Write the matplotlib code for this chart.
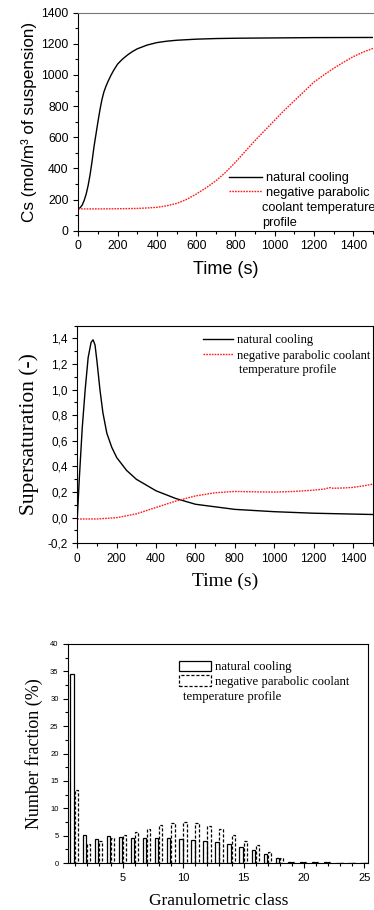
import numpy as np
import matplotlib.pyplot as plt
from matplotlib.lines import Line2D
from matplotlib.patches import Rectangle
from matplotlib.ticker import MultipleLocator

# ---- data: solute concentration (top panel)
t_nat_cs = [0, 10, 20, 30, 40, 50, 60, 70, 80, 90, 100, 110, 120, 130, 140, 150,
            165, 180, 200, 225, 250, 275, 300, 350, 400, 450, 500, 600, 700, 800,
            1000, 1200, 1500]
cs_nat = [140, 148, 165, 195, 235, 290, 360, 445, 540, 620, 700, 775, 840, 890,
          925, 955, 995, 1030, 1070, 1102, 1128, 1150, 1168, 1192, 1208, 1217,
          1223, 1230, 1234, 1236, 1238, 1240, 1241]
t_par_cs = [0, 100, 200, 300, 350, 400, 450, 500, 550, 600, 650, 700, 750, 800,
            850, 900, 950, 1000, 1050, 1100, 1150, 1200, 1250, 1300, 1350, 1400,
            1450, 1500]
cs_par = [140, 140, 141, 143, 146, 150, 160, 175, 200, 235, 275, 320, 375, 440,
          510, 580, 645, 710, 775, 835, 895, 955, 1000, 1043, 1082, 1118, 1147, 1171]

# ---- data: supersaturation (middle panel)
t_nat_s = [0, 10, 25, 40, 55, 70, 80, 90, 100, 115, 130, 150, 175, 200, 250, 300,
           400, 500, 600, 800, 1000, 1200, 1500]
s_nat = [0.0, 0.3, 0.7, 1.0, 1.25, 1.37, 1.39, 1.35, 1.22, 1.0, 0.82, 0.66, 0.55,
         0.47, 0.37, 0.30, 0.21, 0.15, 0.105, 0.065, 0.047, 0.035, 0.025]
t_par_s = [0, 100, 200, 300, 400, 500, 600, 700, 800, 900, 1000, 1100, 1200, 1260,
           1280, 1300, 1350, 1400, 1450, 1500]
s_par = [-0.01, -0.01, 0.0, 0.03, 0.08, 0.13, 0.17, 0.195, 0.205, 0.202, 0.20,
         0.205, 0.215, 0.225, 0.235, 0.23, 0.232, 0.237, 0.248, 0.262]

# ---- data: crystal size distribution (bottom panel)
classes = np.arange(1, 26)
frac_nat = [34.5, 5.05, 4.45, 4.85, 4.75, 4.5, 4.6, 4.55, 4.55, 4.4, 4.25, 4.0,
            3.85, 3.45, 2.9, 2.4, 1.65, 0.9, 0.24, 0.12, 0.12, 0.1, 0, 0, 0]
frac_par = [13.4, 3.4, 3.95, 4.65, 5.1, 5.75, 6.3, 6.9, 7.3, 7.5, 7.3, 6.75, 6.2,
            5.05, 4.0, 3.2, 2.0, 0.95, 0.24, 0.1, 0.1, 0.1, 0.05, 0, 0]

W, H = 374, 910
fig = plt.figure(figsize=(W / 100, H / 100), dpi=100)


def add_ax(left, right, top, bottom):
    return fig.add_axes([left / W, 1 - bottom / H, (right - left) / W, (bottom - top) / H])


def style_ticks(ax, size):
    ax.tick_params(which='both', direction='out', labelsize=size, width=0.8)
    ax.tick_params(which='major', length=3.5)
    ax.tick_params(which='minor', length=2)
    for s in ax.spines.values():
        s.set_linewidth(0.8)


sans = 'Liberation Sans'
serif = 'Liberation Serif'
red = '#ff1a1a'
dots = (0, (1.2, 0.8))

# ---- top panel
ax1 = add_ax(78.3, 373, 12.7, 230.7)
ax1.plot(t_nat_cs, cs_nat, color='black', lw=1.0)
ax1.plot(t_par_cs, cs_par, color=red, lw=1.0, ls=dots)
ax1.set_xlim(0, 1500)
ax1.set_ylim(0, 1400)
ax1.xaxis.set_major_locator(MultipleLocator(200))
ax1.xaxis.set_minor_locator(MultipleLocator(100))
ax1.yaxis.set_major_locator(MultipleLocator(200))
ax1.yaxis.set_minor_locator(MultipleLocator(100))
style_ticks(ax1, 8.7)
ax1.spines['top'].set_color('#777777')
ax1.spines['right'].set_visible(False)
for lab in ax1.get_xticklabels() + ax1.get_yticklabels():
    lab.set_family(sans)
ax1.set_xlabel('Time (s)', family=sans, fontsize=13)
ax1.set_ylabel('Cs (mol/m³ of suspension)', family=sans, fontsize=12.3)
ax1.xaxis.set_label_coords(0.5, -0.14)
ax1.yaxis.set_label_coords(-0.14, 0.5)
h1 = [Line2D([], [], color='black', lw=1.0),
      Line2D([], [], color=red, lw=1.0, ls=dots)]
ax1.legend(h1, ['natural cooling', 'negative parabolic'], loc='upper left',
           bbox_to_anchor=(0.512, 0.268), frameon=False, borderpad=0,
           borderaxespad=0, handlelength=2.6, handletextpad=0.25,
           labelspacing=0.2, prop={'family': sans, 'size': 9.2})
ax1.text(0.624, (230.7 - 208) / 218, 'coolant temperature', transform=ax1.transAxes,
         family=sans, fontsize=9.2, va='center', ha='left')
ax1.text(0.624, (230.7 - 223) / 218, 'profile', transform=ax1.transAxes,
         family=sans, fontsize=9.2, va='center', ha='left')

# ---- middle panel
ax2 = add_ax(77.3, 372.7, 325.7, 543.3)
ax2.plot(t_nat_s, s_nat, color='black', lw=1.0)
ax2.plot(t_par_s, s_par, color=red, lw=1.0, ls=dots)
ax2.set_xlim(0, 1500)
ax2.set_ylim(-0.2, 1.5)
ax2.xaxis.set_major_locator(MultipleLocator(200))
ax2.xaxis.set_minor_locator(MultipleLocator(100))
ax2.yaxis.set_minor_locator(MultipleLocator(0.1))
yt2 = np.arange(-0.2, 1.41, 0.2)
ax2.set_yticks(yt2)
ax2.set_yticklabels([f'{v:.1f}'.replace('.', ',') for v in yt2])
style_ticks(ax2, 8.5)
for lab in ax2.get_xticklabels() + ax2.get_yticklabels():
    lab.set_family(sans)
ax2.set_xlabel('Time (s)', family=serif, fontsize=14)
ax2.set_ylabel('Supersaturation (-)', family=serif, fontsize=15.5)
ax2.xaxis.set_label_coords(0.5, -0.135)
ax2.yaxis.set_label_coords(-0.131, 0.5)
ax2.legend(h1, ['natural cooling', 'negative parabolic coolant'], loc='upper left',
           bbox_to_anchor=(0.4255, 0.96), frameon=False, borderpad=0,
           borderaxespad=0, handlelength=2.4, handletextpad=0.3,
           labelspacing=0.25, prop={'family': serif, 'size': 9.1})
ax2.text(0.547, (543.3 - 370) / 217.6, 'temperature profile', transform=ax2.transAxes,
         family=serif, fontsize=9.1, va='center', ha='left')

# ---- bottom panel
ax3 = add_ax(68.3, 368.3, 644, 863)
ax3.bar(classes - 0.2, frac_nat, width=0.28, facecolor='white', edgecolor='black',
        linewidth=0.9)
ax3.bar(classes + 0.14, frac_par, width=0.28, facecolor='none', edgecolor='black',
        linewidth=0.9, linestyle=(0, (2.5, 1.5)))
ax3.set_xlim(0.48, 25.33)
ax3.set_ylim(0, 40)
ax3.xaxis.set_major_locator(MultipleLocator(5))
ax3.xaxis.set_minor_locator(MultipleLocator(1))
ax3.yaxis.set_major_locator(MultipleLocator(5))
ax3.yaxis.set_minor_locator(MultipleLocator(2.5))
style_ticks(ax3, 8)
ax3.tick_params(axis='y', labelsize=5.5)
for lab in ax3.get_xticklabels() + ax3.get_yticklabels():
    lab.set_family(sans)
ax3.set_xlabel('Granulometric class', family=serif, fontsize=12.5)
ax3.set_ylabel('Number fraction (%)', family=serif, fontsize=13)
ax3.xaxis.set_label_coords(0.5, -0.138)
ax3.yaxis.set_label_coords(-0.084, 0.5)
h3 = [Rectangle((0, 0), 1, 1, facecolor='white', edgecolor='black', lw=0.9),
      Rectangle((0, 0), 1, 1, facecolor='none', edgecolor='black', lw=0.9,
                ls=(0, (2.5, 1.5)))]
ax3.legend(h3, ['natural cooling', 'negative parabolic coolant'], loc='upper left',
           bbox_to_anchor=(0.369, 0.924), frameon=False, borderpad=0,
           borderaxespad=0, handlelength=2.5, handleheight=0.9,
           handletextpad=0.3, labelspacing=0.15,
           prop={'family': serif, 'size': 9.2})
ax3.text(0.381, 0.758, 'temperature profile', transform=ax3.transAxes,
         family=serif, fontsize=9.2, va='center', ha='left')

fig.savefig('out.png', dpi=100)
